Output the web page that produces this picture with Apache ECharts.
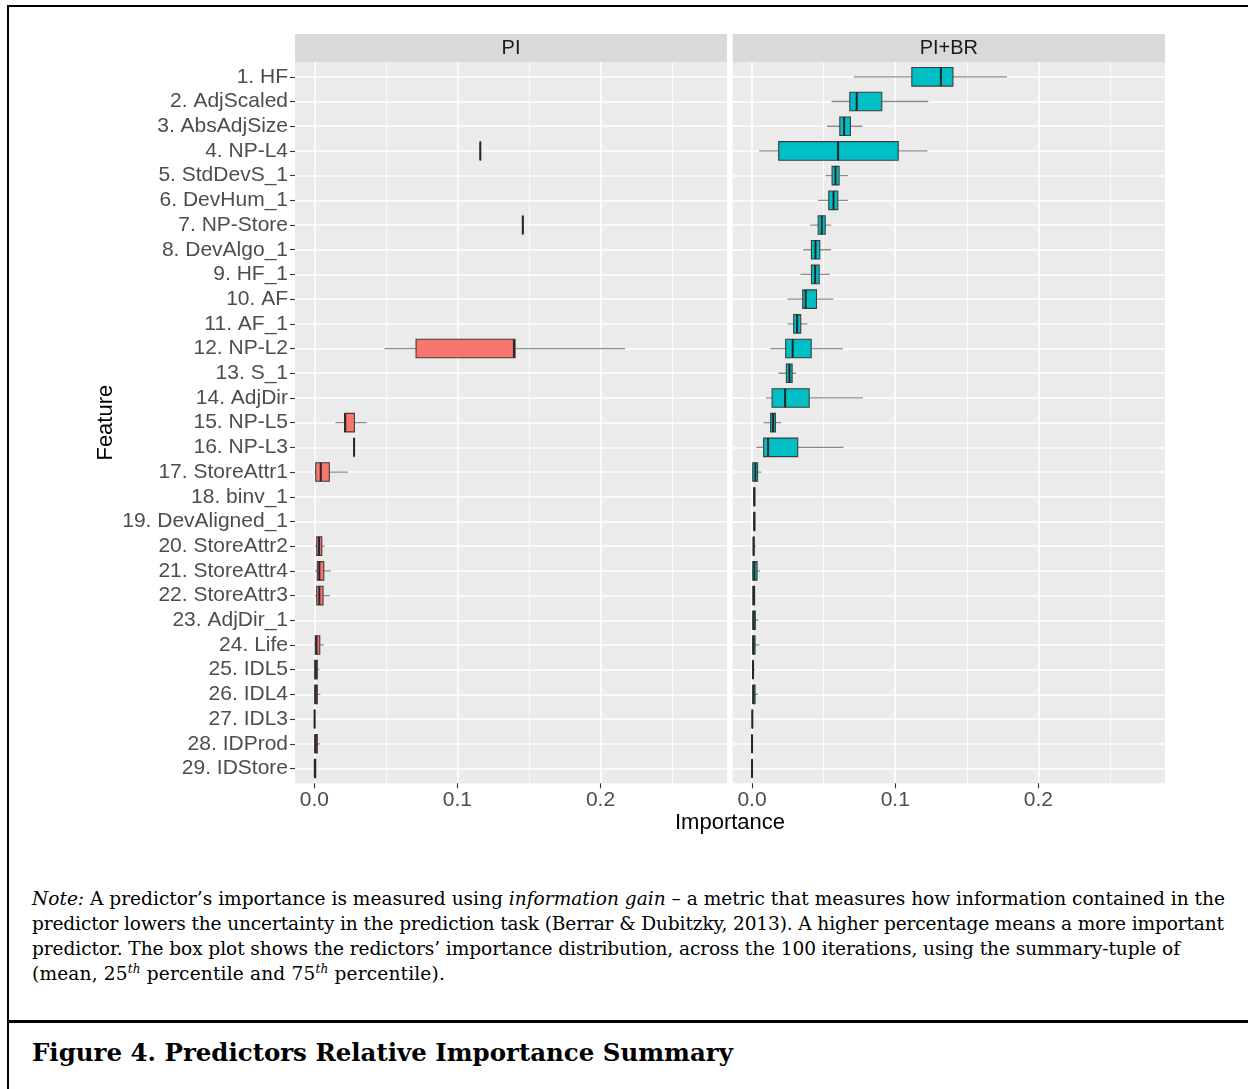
<!DOCTYPE html>
<html><head><meta charset="utf-8">
<script src="https://cdn.jsdelivr.net/npm/echarts@6/dist/echarts.min.js"></script>
<style>
html,body{margin:0;padding:0;background:#fff;}
body{width:1248px;height:1089px;overflow:hidden;position:relative;}
#chart{position:absolute;left:0;top:0;width:1248px;height:860px;}
.hl{position:absolute;background:#000;}
.cap{position:absolute;left:32px;font-family:'DejaVu Serif',serif;color:#000;white-space:nowrap;}
.cap .ln{height:25px;line-height:25px;}
#title{position:absolute;left:32px;top:1036px;font-family:'DejaVu Serif',serif;font-weight:bold;white-space:nowrap;line-height:34px;}
sup{font-size:65%;vertical-align:0;position:relative;top:-0.55em;}
</style>
</head><body>
<div id="chart"></div>
<div class="hl" style="left:7px;top:5px;width:1241px;height:1.5px;"></div>
<div class="hl" style="left:7px;top:5px;width:1.5px;height:1084px;"></div>
<div class="hl" style="left:7px;top:1020px;width:1241px;height:3px;"></div>
<div class="cap" id="cap" style="top:886px;font-size:18px;">
<div class="ln" data-w="1193"><i>Note:</i> A predictor’s importance is measured using <i>information gain</i> – a metric that measures how information contained in the</div>
<div class="ln" data-w="1192">predictor lowers the uncertainty in the prediction task (Berrar &amp; Dubitzky, 2013). A higher percentage means a more important</div>
<div class="ln" data-w="1148">predictor. The box plot shows the redictors’ importance distribution, across the 100 iterations, using the summary-tuple of</div>
<div class="ln" data-w="413">(mean, 25<sup><i>th</i></sup> percentile and 75<sup><i>th</i></sup> percentile).</div>
</div>
<div id="title" style="font-size:26px;">Figure 4. Predictors Relative Importance Summary</div>
<script>
// ---------------- data ----------------
const features = ['1. HF','2. AdjScaled','3. AbsAdjSize','4. NP-L4','5. StdDevS_1','6. DevHum_1','7. NP-Store','8. DevAlgo_1','9. HF_1','10. AF','11. AF_1','12. NP-L2','13. S_1','14. AdjDir','15. NP-L5','16. NP-L3','17. StoreAttr1','18. binv_1','19. DevAligned_1','20. StoreAttr2','21. StoreAttr4','22. StoreAttr3','23. AdjDir_1','24. Life','25. IDL5','26. IDL4','27. IDL3','28. IDProd','29. IDStore'];
const panelNames = ['PI','PI+BR'];
const xTicks = [0, 0.1, 0.2];
const xMinorTicks = [0.05, 0.15, 0.25];

// PI panel (null = not present)
const piMin = [null,null,null,0.116,null,null,0.1457,null,null,null,null,0.049,null,null,0.0147,0.0278,0.0,null,null,0.0005,0.0005,0.0005,null,0.0,0.0,0.0,0.0002,0.0,0.0];
const piQ1  = [null,null,null,0.116,null,null,0.1457,null,null,null,null,0.0711,null,null,0.0212,0.0278,0.001,null,null,0.0017,0.0021,0.0017,null,0.0007,0.0003,0.0003,0.0002,0.0003,0.0001];
const piMed = [null,null,null,0.116,null,null,0.1457,null,null,null,null,0.1395,null,null,0.0216,0.0278,0.0045,null,null,0.0033,0.0035,0.0035,null,0.0015,0.001,0.001,0.0002,0.001,0.0004];
const piQ3  = [null,null,null,0.116,null,null,0.1457,null,null,null,null,0.1403,null,null,0.028,0.0278,0.0105,null,null,0.0052,0.0066,0.0061,null,0.0038,0.0021,0.0021,0.0002,0.0021,0.001];
const piMax = [null,null,null,0.116,null,null,0.1457,null,null,null,null,0.2171,null,null,0.0366,0.0278,0.0236,null,null,0.0073,0.0117,0.011,null,0.0066,0.0035,0.0042,0.0002,0.0042,0.0012];

// PI+BR panel
const brMin = [0.0711,0.0555,0.0524,0.0051,0.0513,0.0462,0.0406,0.0357,0.0338,0.0247,0.0247,0.0128,0.0184,0.0098,0.0081,0.003,0.0,0.0012,0.0012,0.0007,0.0002,0.0004,0.0003,0.0003,0.0005,0.0003,0.0002,0.0,0.0];
const brQ1  = [0.1116,0.0683,0.0613,0.0186,0.0559,0.0536,0.0462,0.0415,0.0415,0.0354,0.0291,0.0235,0.024,0.014,0.013,0.0081,0.0005,0.0013,0.0013,0.0009,0.0005,0.0006,0.0005,0.0005,0.0006,0.0005,0.0002,0.0,0.0];
const brMed = [0.1319,0.0731,0.0643,0.0601,0.0583,0.0569,0.0487,0.0443,0.0441,0.0375,0.0315,0.0284,0.0261,0.0231,0.0147,0.0112,0.0023,0.0016,0.0016,0.0011,0.0016,0.0012,0.0012,0.001,0.0007,0.001,0.0002,0.0,0.0];
const brQ3  = [0.1403,0.0906,0.0687,0.1021,0.0608,0.0599,0.0511,0.0473,0.0469,0.045,0.034,0.0413,0.028,0.0399,0.0163,0.0319,0.0039,0.0019,0.0019,0.0014,0.0035,0.0018,0.0023,0.0021,0.0008,0.0021,0.0002,0.0,0.0];
const brMax = [0.178,0.1231,0.0771,0.1224,0.0671,0.0671,0.0552,0.0552,0.0543,0.0567,0.0387,0.0634,0.0308,0.0774,0.0203,0.0638,0.0065,0.002,0.002,0.0028,0.0056,0.0025,0.0044,0.0051,0.002,0.0042,0.0002,0.0,0.0];

// ---------------- layout / style ----------------
const FONT = 'Liberation Sans, Arial, sans-serif';
const X_MIN = -0.0135, X_MAX = 0.2884, Y_MIN = 0.4, Y_MAX = 29.6;
const grids = [
  {left: 295, top: 62, width: 432, height: 721.3},
  {left: 732.7, top: 62, width: 432.3, height: 721.3}
];
const fills = ['#F8766D', '#00BFC4'];
const rows = features.map((_, i) => i + 1);

function build(mins, q1s, meds, q3s, maxs) {
  const out = [];
  for (let i = 0; i < features.length; i++) {
    if (mins[i] === null) continue;
    out.push([i + 1, mins[i], q1s[i], meds[i], q3s[i], maxs[i]]);
  }
  return out;
}
const panelData = [
  build(piMin, piQ1, piMed, piQ3, piMax),
  build(brMin, brQ1, brMed, brQ3, brMax)
];

function renderBox(color) {
  return function (params, api) {
    const y = api.value(0);
    const pMin = api.coord([api.value(1), y]);
    const pQ1 = api.coord([api.value(2), y]);
    const pMed = api.coord([api.value(3), y]);
    const pQ3 = api.coord([api.value(4), y]);
    const pMax = api.coord([api.value(5), y]);
    const h = Math.abs(api.size([0, 0.75])[1]);
    const yc = pMed[1];
    return {
      type: 'group',
      children: [
        {type: 'line', shape: {x1: pMin[0], y1: yc, x2: pQ1[0], y2: yc}, style: {stroke: '#8c8c8c', lineWidth: 1.3}},
        {type: 'line', shape: {x1: pQ3[0], y1: yc, x2: pMax[0], y2: yc}, style: {stroke: '#8c8c8c', lineWidth: 1.3}},
        {type: 'rect', shape: {x: pQ1[0], y: yc - h / 2, width: Math.max(pQ3[0] - pQ1[0], 0.01), height: h},
          style: {fill: color, stroke: '#3d3d3d', lineWidth: 1.1}},
        {type: 'line', shape: {x1: pMed[0], y1: yc - h / 2, x2: pMed[0], y2: yc + h / 2}, style: {stroke: '#262626', lineWidth: 2}}
      ]
    };
  };
}

const option = {
  animation: false,
  backgroundColor: '#fff',
  grid: grids.map(g => Object.assign({show: true, backgroundColor: '#EBEBEB', borderWidth: 0}, g)),
  xAxis: [],
  yAxis: [],
  series: [],
  graphic: []
};

grids.forEach((g, i) => {
  option.xAxis.push({
    gridIndex: i, type: 'value', min: X_MIN, max: X_MAX, position: 'bottom',
    axisLine: {show: false, onZero: false},
    axisTick: {show: true, customValues: xTicks, length: 5, lineStyle: {color: '#333', width: 1.1}},
    axisLabel: {customValues: xTicks, formatter: v => v.toFixed(1), color: '#4D4D4D', fontSize: 21, fontFamily: FONT, margin: 6},
    splitLine: {show: true, lineStyle: {color: '#ffffff', width: 1.6}}
  });
  option.xAxis.push({
    gridIndex: i, type: 'value', min: X_MIN, max: X_MAX, position: 'top',
    axisLine: {show: false, onZero: false},
    axisTick: {show: false, customValues: xMinorTicks},
    axisLabel: {show: false, customValues: xMinorTicks},
    splitLine: {show: true, lineStyle: {color: '#ffffff', width: 0.8}}
  });
  option.yAxis.push({
    gridIndex: i, type: 'value', min: Y_MIN, max: Y_MAX, inverse: true, position: 'left',
    axisLine: {show: false, onZero: false},
    axisTick: {show: i === 0, customValues: rows, length: 5, lineStyle: {color: '#333', width: 1.1}},
    axisLabel: {show: i === 0, customValues: rows, formatter: v => features[Math.round(v) - 1] || '',
      color: '#4D4D4D', fontSize: 21, fontFamily: FONT, margin: 7},
    splitLine: {show: true, lineStyle: {color: '#ffffff', width: 1.6}}
  });
  option.series.push({
    type: 'custom', name: panelNames[i], xAxisIndex: i * 2, yAxisIndex: i,
    renderItem: renderBox(fills[i]),
    encode: {x: [1, 2, 3, 4, 5], y: 0},
    data: panelData[i], clip: true
  });
  // facet strip
  option.graphic.push({type: 'rect', shape: {x: g.left, y: 34, width: g.width, height: 28}, style: {fill: '#D9D9D9'}, silent: true});
  option.graphic.push({type: 'text', x: g.left + g.width / 2, y: 48.5,
    style: {text: panelNames[i], fill: '#1A1A1A', font: '20px ' + FONT, align: 'center', verticalAlign: 'middle', textAlign: 'center', textVerticalAlign: 'middle'}});
});

// axis titles
option.graphic.push({type: 'text', x: (grids[0].left + grids[1].left + grids[1].width) / 2, y: 823,
  style: {text: 'Importance', fill: '#000', font: '22px ' + FONT, align: 'center', verticalAlign: 'middle', textAlign: 'center', textVerticalAlign: 'middle'}});
option.graphic.push({type: 'text', x: 106, y: grids[0].top + grids[0].height / 2, rotation: Math.PI / 2,
  style: {text: 'Feature', fill: '#000', font: '22px ' + FONT, align: 'center', verticalAlign: 'middle', textAlign: 'center', textVerticalAlign: 'middle'}});

const chart = echarts.init(document.getElementById('chart'), null, {renderer: 'canvas'});
chart.setOption(option);

// ------------- fit caption text widths -------------
(function fit() {
  const cap = document.getElementById('cap');
  const lines = cap.querySelectorAll('.ln');
  const first = lines[0];
  first.style.display = 'inline-block';
  const w0 = first.getBoundingClientRect().width;
  first.style.display = '';
  const fs = 18 * 1193 / w0;
  cap.style.fontSize = fs.toFixed(2) + 'px';
  lines.forEach(l => {
    l.style.display = 'inline-block';
    const w = l.getBoundingClientRect().width;
    const target = +l.dataset.w;
    const n = l.textContent.length;
    l.style.letterSpacing = ((target - w) / n).toFixed(3) + 'px';
    l.style.display = 'block';
  });
  const t = document.getElementById('title');
  t.style.display = 'inline-block';
  const tw = t.getBoundingClientRect().width;
  t.style.fontSize = (26 * 701 / tw).toFixed(2) + 'px';
})();
</script>
</body></html>
